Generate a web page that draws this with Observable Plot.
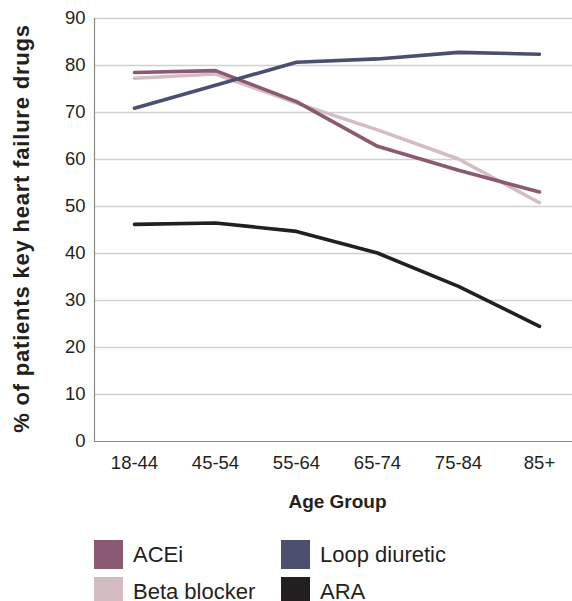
<!DOCTYPE html>
<html>
<head>
<meta charset="utf-8">
<script src="https://cdn.jsdelivr.net/npm/d3@7"></script>
<script src="https://cdn.jsdelivr.net/npm/@observablehq/plot@0.6"></script>
<style>
  html, body { margin: 0; padding: 0; background: #fff; }
  #wrap { position: relative; width: 572px; height: 601px; overflow: hidden; font-family: "Liberation Sans", Arial, Helvetica, sans-serif; }
  .item { position: absolute; display: flex; align-items: center; font-size: 22px; color: #231f20; white-space: nowrap; }
  .sw { width: 29px; height: 29px; margin-right: 10px; }
  .ylab text { letter-spacing: 0.8px; }
</style>
</head>
<body>
<div id="wrap"></div>
<script>
const ages = ["18-44", "45-54", "55-64", "65-74", "75-84", "85+"];
const acei = [78.5, 78.9, 72.3, 62.8, 57.7, 53.1];
const beta = [77.3, 78.2, 72.0, 66.3, 60.1, 50.8];
const loop = [70.9, 75.8, 80.7, 81.4, 82.8, 82.4];
const ara  = [46.2, 46.5, 44.7, 40.1, 33.0, 24.5];
const seriesNames = ["ACEi", "Beta blocker", "Loop diuretic", "ARA"];
const seriesColors = ["#8b5a72", "#d4bcc3", "#4b4f6f", "#231f20"];
const yTicks = [0, 10, 20, 30, 40, 50, 60, 70, 80, 90];
const yLabel = "% of patients key heart failure drugs";
const xLabel = "Age Group";

const seriesValues = {"ACEi": acei, "Beta blocker": beta, "Loop diuretic": loop, "ARA": ara};
const drawOrder = ["Beta blocker", "ACEi", "Loop diuretic", "ARA"];
const rows = drawOrder.flatMap(name => ages.map((a, i) => ({series: name, age: a, value: seriesValues[name][i]})));

const chart = Plot.plot({
  width: 572,
  height: 525,
  marginLeft: 94,
  marginRight: 0,
  marginTop: 18,
  marginBottom: 84,
  style: {fontFamily: '"Liberation Sans", Arial, Helvetica, sans-serif', fontSize: "18px", color: "#231f20", background: "#fff"},
  x: {type: "point", domain: ages, range: [133, 540], padding: 0},
  y: {domain: [0, 90]},
  color: {domain: seriesNames, range: seriesColors},
  marks: [
    Plot.ruleY(yTicks.filter(d => d > 0), {stroke: "#d0d0d0", strokeWidth: 1.5}),
    Plot.ruleY([0], {stroke: "#8a8a8a", strokeWidth: 1.2}),
    Plot.frame({anchor: "left", stroke: "#8a8a8a", strokeWidth: 1.2}),
    Plot.line(rows, {x: "age", y: "value", z: "series", stroke: "series", strokeWidth: 3.6, strokeLinejoin: "round", strokeLinecap: "round"}),
    Plot.axisX({tickSize: 0, tickPadding: 14, fontSize: 18.5, label: null}),
    Plot.axisY({ticks: yTicks, tickSize: 0, tickPadding: 9, fontSize: 18.5, label: null}),
    Plot.text([xLabel], {frameAnchor: "bottom", dx: 4, dy: 66, fontWeight: "bold", fontSize: 19}),
    Plot.text([yLabel], {frameAnchor: "left", textAnchor: "middle", rotate: -90, dx: -73, dy: -1.5, fontWeight: "bold", fontSize: 22, className: "ylab"})
  ]
});

const wrap = document.getElementById("wrap");
wrap.appendChild(chart);

const legendPos = [
  {name: "ACEi", left: 94, top: 540},
  {name: "Loop diuretic", left: 281, top: 540},
  {name: "Beta blocker", left: 94, top: 577},
  {name: "ARA", left: 281, top: 577}
];
legendPos.forEach(p => {
  const el = document.createElement("div");
  el.className = "item";
  el.style.left = p.left + "px";
  el.style.top = p.top + "px";
  const sw = document.createElement("div");
  sw.className = "sw";
  sw.style.background = seriesColors[seriesNames.indexOf(p.name)];
  const tx = document.createElement("span");
  tx.textContent = p.name;
  el.appendChild(sw);
  el.appendChild(tx);
  wrap.appendChild(el);
});
</script>
</body>
</html>
